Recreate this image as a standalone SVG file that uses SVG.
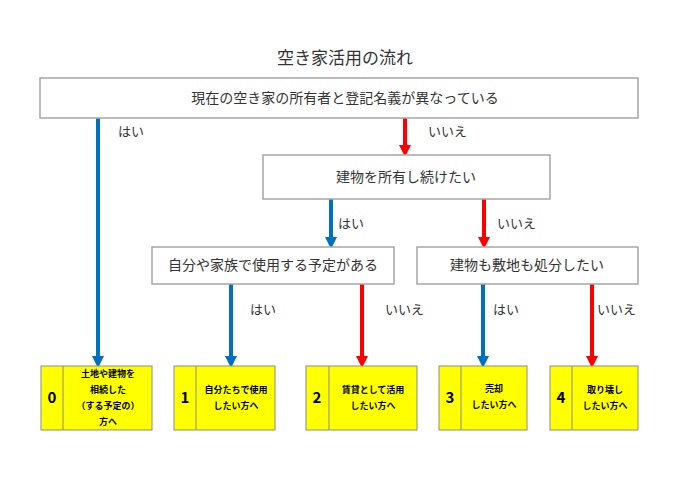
<svg xmlns="http://www.w3.org/2000/svg" width="690" height="488" viewBox="0 0 690 488">
<style>
text{font-family:"Noto Sans CJK JP","Noto Sans",sans-serif;fill:#333}
.b{fill:#fff;stroke:#a6a6a6;stroke-width:1.5}
.y{fill:#ffff00;stroke:#8c8c8c;stroke-width:1}
.t{font-size:14px;text-anchor:middle}
.s{font-size:9px;font-weight:bold;text-anchor:middle;fill:#000}
.n{font-size:15px;font-weight:bold;text-anchor:middle;fill:#000}
.l{font-size:13px}
.bl{stroke:#0070c0;stroke-width:4;fill:none}
.rd{stroke:#ff0000;stroke-width:4;fill:none}
</style>
<defs>
<marker id="ab" markerWidth="3" markerHeight="3" refX="1.5" refY="1.5" orient="auto" markerUnits="strokeWidth"><path d="M0,0L3,1.5L0,3z" fill="#0070c0"/></marker>
<marker id="ar" markerWidth="3" markerHeight="3" refX="1.5" refY="1.5" orient="auto" markerUnits="strokeWidth"><path d="M0,0L3,1.5L0,3z" fill="#ff0000"/></marker>
</defs>
<rect width="690" height="488" fill="#fff"/>
<text x="345" y="64" class="t" style="font-size:17px">空き家活用の流れ</text>
<g id="connectors">
<path class="bl" d="M98,118V362" marker-end="url(#ab)"/>
<path class="rd" d="M405,118V151" marker-end="url(#ar)"/>
<path class="bl" d="M331,199V243" marker-end="url(#ab)"/>
<path class="rd" d="M484,199V243" marker-end="url(#ar)"/>
<path class="bl" d="M231,284V362" marker-end="url(#ab)"/>
<path class="rd" d="M362,284V362" marker-end="url(#ar)"/>
<path class="bl" d="M483,284V362" marker-end="url(#ab)"/>
<path class="rd" d="M592,284V362" marker-end="url(#ar)"/>
<text x="118" y="136" class="l">はい</text>
<text x="428" y="136" class="l">いいえ</text>
<text x="338" y="228" class="l">はい</text>
<text x="497" y="228" class="l">いいえ</text>
<text x="250" y="314" class="l">はい</text>
<text x="385" y="314" class="l">いいえ</text>
<text x="493" y="314" class="l">はい</text>
<text x="597" y="314" class="l">いいえ</text>
</g>
<g id="q1"><rect class="b" x="40" y="78" width="598" height="40"/><text x="345" y="103" class="t">現在の空き家の所有者と登記名義が異なっている</text></g>
<g id="q2"><rect class="b" x="263" y="155" width="287" height="44"/><text x="406" y="182" class="t">建物を所有し続けたい</text></g>
<g id="q3"><rect class="b" x="152" y="247" width="242" height="37"/><text x="273" y="270" class="t">自分や家族で使用する予定がある</text></g>
<g id="q4"><rect class="b" x="417" y="247" width="221" height="37"/><text x="527" y="270" class="t">建物も敷地も処分したい</text></g>
<g id="r0"><rect class="y" x="41" y="366" width="111" height="64"/><path d="M63,366V430" stroke="#8c8c8c"/><text x="52" y="403" class="n">0</text>
<text class="s" x="108" y="377">土地や建物を</text><text class="s" x="108" y="393">相続した</text><text class="s" x="108" y="409">（する予定の）</text><text class="s" x="108" y="425">方へ</text></g>
<g id="r1"><rect class="y" x="174" y="366" width="101" height="64"/><path d="M196,366V430" stroke="#8c8c8c"/><text x="185" y="403" class="n">1</text>
<text class="s" x="236" y="393">自分たちで使用</text><text class="s" x="236" y="409">したい方へ</text></g>
<g id="r2"><rect class="y" x="306" y="366" width="111" height="64"/><path d="M329,366V430" stroke="#8c8c8c"/><text x="317" y="403" class="n">2</text>
<text class="s" x="373" y="393">賃貸として活用</text><text class="s" x="373" y="409">したい方へ</text></g>
<g id="r3"><rect class="y" x="439" y="366" width="88" height="64"/><path d="M461,366V430" stroke="#8c8c8c"/><text x="450" y="403" class="n">3</text>
<text class="s" x="494" y="392">売却</text><text class="s" x="494" y="408">したい方へ</text></g>
<g id="r4"><rect class="y" x="550" y="366" width="88" height="64"/><path d="M572,366V430" stroke="#8c8c8c"/><text x="561" y="403" class="n">4</text>
<text class="s" x="605" y="393">取り壊し</text><text class="s" x="605" y="409">したい方へ</text></g>
</svg>
